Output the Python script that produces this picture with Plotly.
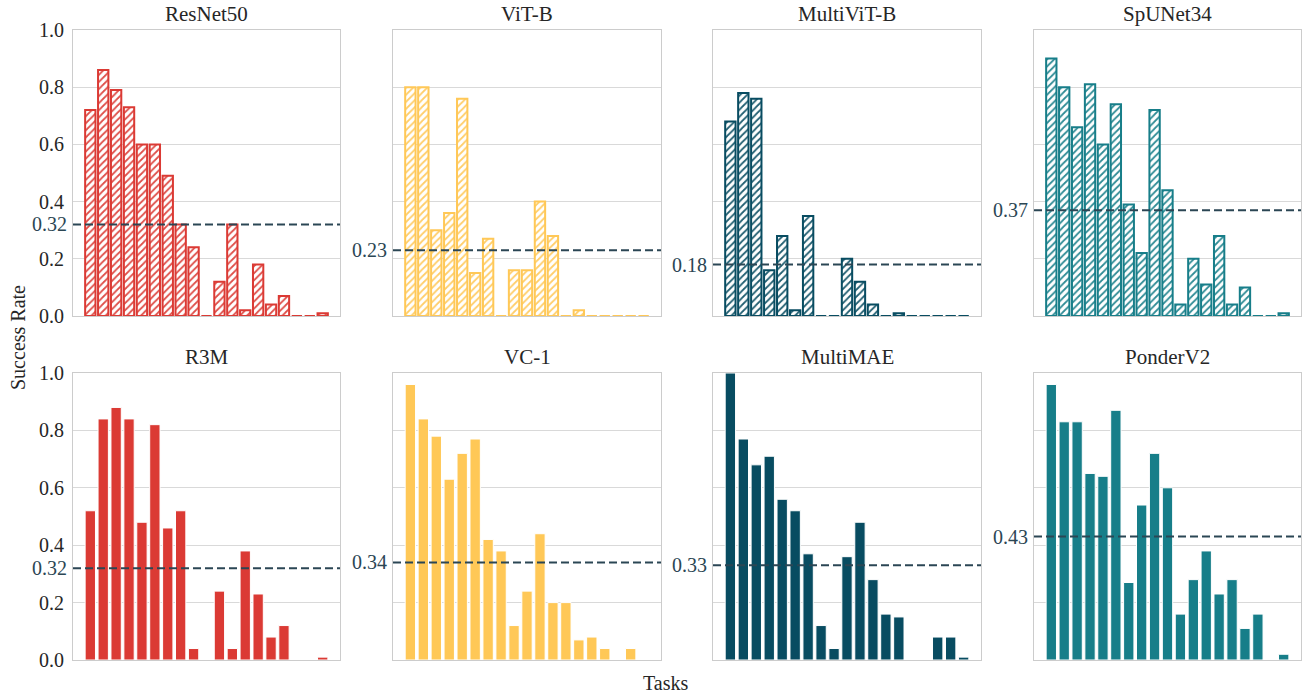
import plotly.graph_objects as go

# ---------------- data ----------------
models = ["ResNet50", "ViT-B", "MultiViT-B", "SpUNet34",
          "R3M", "VC-1", "MultiMAE", "PonderV2"]
tasks = list(range(19))

resnet50 = [0.72, 0.86, 0.79, 0.73, 0.60, 0.60, 0.49, 0.32, 0.24, 0.00,
            0.12, 0.32, 0.02, 0.18, 0.04, 0.07, 0.00, 0.00, 0.01]
vit_b = [0.80, 0.80, 0.30, 0.36, 0.76, 0.15, 0.27, 0.00, 0.16, 0.16,
         0.40, 0.28, 0.00, 0.02, 0.00, 0.00, 0.00, 0.00, 0.00]
multivit_b = [0.68, 0.78, 0.76, 0.16, 0.28, 0.02, 0.35, 0.00, 0.00, 0.20,
              0.12, 0.04, 0.00, 0.01, 0.00, 0.00, 0.00, 0.00, 0.00]
spunet34 = [0.90, 0.80, 0.66, 0.81, 0.60, 0.74, 0.39, 0.22, 0.72, 0.44,
            0.04, 0.20, 0.11, 0.28, 0.04, 0.10, 0.00, 0.00, 0.01]
r3m = [0.52, 0.84, 0.88, 0.84, 0.48, 0.82, 0.46, 0.52, 0.04, 0.00,
       0.24, 0.04, 0.38, 0.23, 0.08, 0.12, 0.00, 0.00, 0.01]
vc1 = [0.96, 0.84, 0.78, 0.63, 0.72, 0.77, 0.42, 0.38, 0.12, 0.24,
       0.44, 0.20, 0.20, 0.07, 0.08, 0.04, 0.00, 0.04, 0.00]
multimae = [1.00, 0.77, 0.68, 0.71, 0.56, 0.52, 0.37, 0.12, 0.04, 0.36,
            0.48, 0.28, 0.16, 0.15, 0.00, 0.00, 0.08, 0.08, 0.01]
ponderv2 = [0.96, 0.83, 0.83, 0.65, 0.64, 0.87, 0.27, 0.54, 0.72, 0.60,
            0.16, 0.28, 0.38, 0.23, 0.28, 0.11, 0.16, 0.00, 0.02]

series = [resnet50, vit_b, multivit_b, spunet34, r3m, vc1, multimae, ponderv2]
means = [0.32, 0.23, 0.18, 0.37, 0.32, 0.34, 0.33, 0.43]
y_ticks = [0.0, 0.2, 0.4, 0.6, 0.8, 1.0]

palette = ["#DB3A34", "#FFC857", "#084C61", "#177E89"]
colors = palette + palette
hatched = [True, True, True, True, False, False, False, False]

# ---------------- layout geometry ----------------
W, H = 1302, 694
col_px = [(73, 340), (393, 661), (713, 981), (1034, 1301)]
row_px = [(30, 316), (373, 660)]

FONT = "Liberation Serif, Times New Roman, serif"
TXT = "#262626"
MEAN_C = "#2B4654"
GRID = "#d9d9d9"
FRAME = "#cccccc"

fig = go.Figure()
layout = dict(
    template="none",
    width=W, height=H,
    margin=dict(l=0, r=0, t=0, b=0, autoexpand=False),
    paper_bgcolor="white", plot_bgcolor="white",
    showlegend=False,
    font=dict(family=FONT, size=20, color=TXT),
    bargap=0.2,
)
annotations = []
shapes = []

for i, (name, vals) in enumerate(zip(models, series)):
    r, c = divmod(i, 4)
    idx = i + 1
    xa = "x" if idx == 1 else f"x{idx}"
    ya = "y" if idx == 1 else f"y{idx}"
    x0, x1 = col_px[c]
    yt, yb = row_px[r]
    xdom = [x0 / W, min(1.0, x1 / W)]
    ydom = [1 - yb / H, 1 - yt / H]

    if hatched[i]:
        marker = dict(
            color="white",
            line=dict(color=colors[i], width=2),
            pattern=dict(shape="/", fgcolor=colors[i], bgcolor="white",
                         size=5, solidity=0.35, fgopacity=0.9),
        )
    else:
        marker = dict(color=colors[i], line=dict(color="white", width=1))

    fig.add_trace(go.Bar(x=tasks, y=vals, marker=marker, width=0.8,
                         xaxis=xa, yaxis=ya, hoverinfo="y"))

    xkey = "xaxis" if idx == 1 else f"xaxis{idx}"
    ykey = "yaxis" if idx == 1 else f"yaxis{idx}"
    layout[xkey] = dict(domain=xdom, anchor=ya, range=[-1.34, 19.34],
                        showticklabels=False, showgrid=False, zeroline=False,
                        ticks="", showline=True, linecolor=FRAME, linewidth=1,
                        mirror=True, fixedrange=True, automargin=False)
    ydict = dict(domain=ydom, anchor=xa, range=[0, 1],
                 tickvals=y_ticks, showgrid=True, gridcolor=GRID, gridwidth=1,
                 zeroline=False, ticks="", showline=True, linecolor=FRAME,
                 linewidth=1, mirror=True, fixedrange=True, automargin=False)
    if c == 0:
        ydict.update(showticklabels=True,
                     ticktext=[f"{v:.1f}" for v in y_ticks],
                     tickfont=dict(family=FONT, size=20, color=TXT),
                     ticklabelstandoff=4)
    else:
        ydict.update(showticklabels=False)
    layout[ykey] = ydict

    # mean line
    shapes.append(dict(type="line", xref=f"{xa} domain", yref=ya,
                       x0=0, x1=1, y0=means[i], y1=means[i],
                       line=dict(color=MEAN_C, width=2, dash="8px,4px"),
                       layer="above"))
    annotations.append(dict(xref=f"{xa} domain", yref=ya, x=0, y=means[i],
                            xanchor="right", yanchor="middle", xshift=-4,
                            text=f"{means[i]:.2f}", showarrow=False,
                            font=dict(family=FONT, size=20, color=MEAN_C)))
    # title
    annotations.append(dict(xref=f"{xa} domain", yref=f"{ya} domain",
                            x=0.5, y=1, xanchor="center", yanchor="bottom",
                            yshift=2, text=name, showarrow=False,
                            font=dict(family=FONT, size=21, color=TXT)))

annotations.append(dict(xref="paper", yref="paper", x=18 / W, y=1 - 338 / H,
                        text="Success Rate", textangle=-90, showarrow=False,
                        xanchor="center", yanchor="middle",
                        font=dict(family=FONT, size=20, color=TXT)))
annotations.append(dict(xref="paper", yref="paper", x=665 / W, y=1 - 683 / H,
                        text="Tasks", showarrow=False,
                        xanchor="center", yanchor="middle",
                        font=dict(family=FONT, size=20, color=TXT)))

layout["annotations"] = annotations
layout["shapes"] = shapes
fig.update_layout(**layout)
# remove the browser's default 8px body margin so the figure fills the window
fig.write_html("out.html",
               config={"displayModeBar": False},
               post_script="document.body.style.margin='0';"
                           "document.body.style.overflow='hidden';")
